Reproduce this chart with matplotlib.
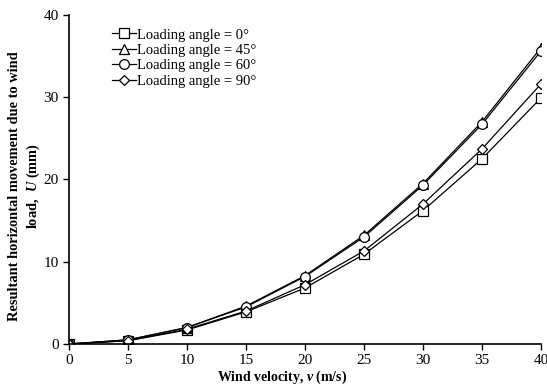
import matplotlib.pyplot as plt
import numpy as np

plt.rcParams['font.family'] = ['Liberation Serif', 'DejaVu Serif']
plt.rcParams['mathtext.fontset'] = 'custom'
plt.rcParams['mathtext.it'] = 'Liberation Serif:italic:bold'
plt.rcParams['mathtext.rm'] = 'Liberation Serif:bold'

velocity = [0, 5, 10, 15, 20, 25, 30, 35, 40]
u_0 = [0, 0.4, 1.7, 3.9, 6.8, 10.9, 16.2, 22.5, 29.9]
u_45 = [0, 0.5, 2.0, 4.6, 8.3, 13.2, 19.5, 27.0, 36.0]
u_60 = [0, 0.5, 2.0, 4.5, 8.2, 13.0, 19.3, 26.7, 35.6]
u_90 = [0, 0.4, 1.8, 4.0, 7.2, 11.3, 17.0, 23.7, 31.6]

series = [(u_0, 's', 'Loading angle = 0°'),
          (u_45, '^', 'Loading angle = 45°'),
          (u_60, 'o', 'Loading angle = 60°'),
          (u_90, 'D', 'Loading angle = 90°')]

fig = plt.figure(figsize=(5.47, 3.9), dpi=100)
ax = fig.add_axes([0.126, 0.118, 0.863, 0.844])

for vals, mk, lab in series:
    ms = 5 if mk == 'D' else 7
    ax.plot(velocity, vals, color='black', lw=0.9, marker=mk, markersize=ms,
            markerfacecolor='white', markeredgecolor='black', markeredgewidth=0.9,
            label=lab)

ax.set_xlim(0, 40)
ax.set_ylim(0, 40)
ax.set_xticks(range(0, 41, 5))
ax.set_yticks(range(0, 41, 10))
ax.spines['top'].set_visible(False)
ax.spines['right'].set_visible(False)
ax.spines['left'].set_linewidth(1.2)
ax.spines['bottom'].set_linewidth(1.2)
ax.tick_params(direction='out', labelsize=11, length=4, width=1)
ax.set_xlabel('Wind velocity, $v$ (m/s)', fontsize=10, fontweight='bold', labelpad=1)
ax.xaxis.set_label_coords(0.451, -0.075)
ax.set_ylabel('Resultant horizontal movement due to wind\nload,  $U$ (mm)', fontsize=10.4,
              fontweight='bold', linespacing=1.25)
ax.yaxis.set_label_coords(-0.058, 0.48)

leg = ax.legend(loc='upper left', bbox_to_anchor=(0.07, 0.99), frameon=False, fontsize=10.5,
                handlelength=1.6, handletextpad=0.1, labelspacing=0.15, borderpad=0.2)

fig.savefig('out.png', dpi=100)
